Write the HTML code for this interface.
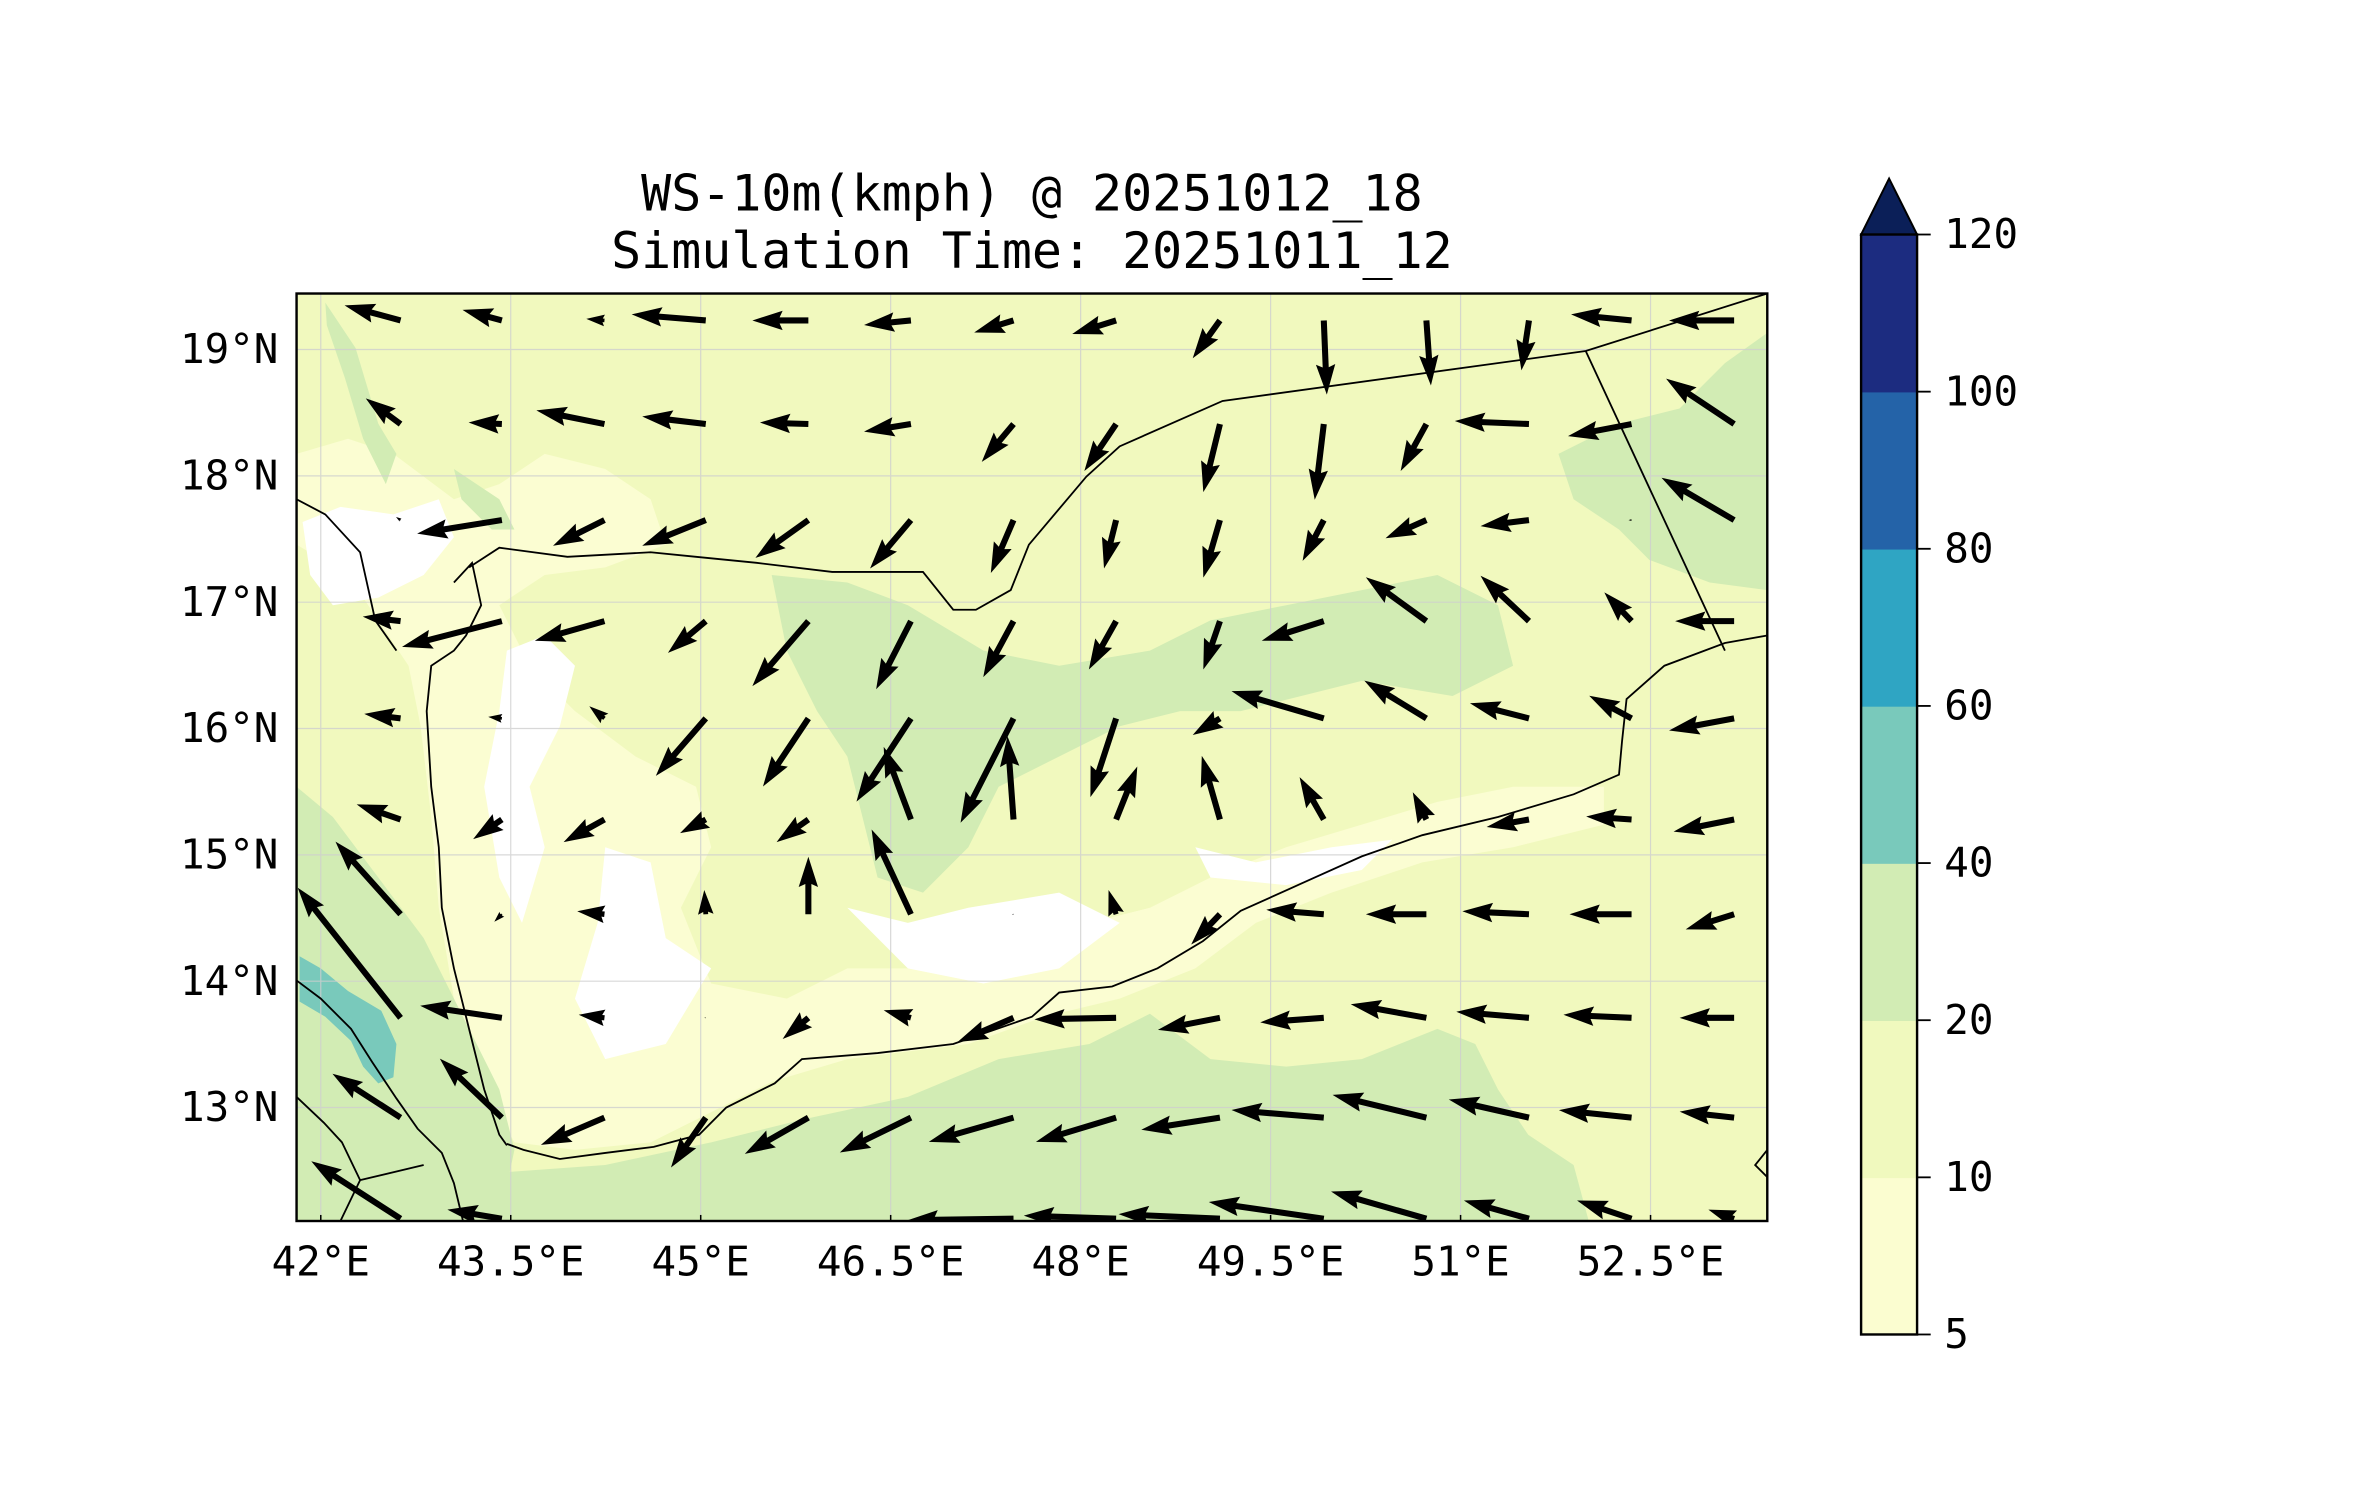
<!DOCTYPE html>
<html><head><meta charset="utf-8">
<style>
html,body{margin:0;padding:0;background:#fff;}
svg{display:block;}
text{font-family:"DejaVu Sans Mono","Liberation Mono",monospace;fill:#000;}
</style></head>
<body>
<svg id="chart" width="2371" height="1500" viewBox="0 0 1567 991.4" preserveAspectRatio="none" xmlns="http://www.w3.org/2000/svg">
  <defs>
    <clipPath id="mapclip"><rect x="196" y="194" width="972" height="613"/></clipPath>
  </defs>
  <g>
    <text x="682" y="139" font-size="33" text-anchor="middle">WS-10m(kmph) @ 20251012_18</text>
    <text x="682" y="177" font-size="33" text-anchor="middle">Simulation Time: 20251011_12</text>
  </g>
  <g id="map" clip-path="url(#mapclip)">
    <rect x="196" y="194" width="972" height="613" fill="#f1f9be"/>
    <g>
      <path fill="#fbfdd2" d="M196 300 L230 290 L260 300 L300 330 L330 320 L360 300 L400 310 L430 330 L440 360 L400 375 L360 380 L330 400 L350 440 L380 470 L420 500 L460 520 L470 560 L450 600 L470 650 L520 660 L560 640 L620 640 L680 620 L720 610 L760 600 L800 580 L850 560 L900 545 L950 530 L1000 520 L1060 520 L1060 545 L1000 560 L940 570 L880 590 L830 610 L790 640 L740 660 L690 672 L640 690 L560 700 L510 715 L470 735 L430 755 L380 760 L340 755 L320 720 L300 660 L290 600 L285 540 L278 480 L270 440 L250 410 L230 380 L196 360 Z"/>
      <path fill="#ffffff" d="M200 345 L225 335 L260 340 L290 330 L300 355 L280 380 L250 395 L220 400 L205 380 Z M335 430 L360 420 L380 440 L370 480 L350 520 L360 560 L345 610 L330 580 L320 520 L330 470 Z M400 560 L430 570 L440 620 L470 640 L440 690 L400 700 L380 660 L395 610 Z M560 600 L600 610 L640 600 L700 590 L740 610 L700 640 L650 650 L600 640 Z M790 560 L830 570 L880 560 L920 555 L900 575 L850 585 L800 580 Z M660 610 L700 605 L720 620 L690 640 L660 630 Z"/>
      <path fill="#d2ecb4" d="M510 380 L560 385 L600 400 L650 430 L700 440 L760 430 L800 410 L850 400 L900 390 L950 380 L990 400 L1000 440 L960 460 L900 450 L860 460 L820 470 L780 470 L740 480 L700 500 L660 520 L640 560 L610 590 L580 580 L570 540 L560 500 L540 470 L520 430 Z"/>
      <path fill="#d2ecb4" d="M1030 300 L1070 280 L1110 270 L1140 240 L1168 220 L1168 390 L1130 385 L1090 370 L1070 350 L1040 330 Z"/>
      <path fill="#d2ecb4" d="M196 520 L220 540 L250 580 L280 620 L310 680 L330 720 L340 760 L330 807 L196 807 Z"/>
      <path fill="#d2ecb4" d="M330 775 L400 770 L470 755 L530 740 L600 725 L660 700 L720 690 L760 670 L800 700 L850 705 L900 700 L950 680 L975 690 L990 720 L1010 750 L1040 770 L1050 807 L330 807 Z"/>
      <path fill="#d2ecb4" d="M215 200 L235 230 L250 280 L262 300 L255 320 L240 290 L228 250 L216 215 Z M300 310 L330 330 L340 350 L325 350 L305 330 Z"/>
      <path fill="#79c9bb" d="M198 632 L212 640 L230 655 L252 668 L262 690 L260 712 L250 716 L240 705 L232 688 L215 672 L198 662 Z"/>
    </g>
    <g stroke="#cfcfcf" stroke-width="0.8" opacity="0.8" id="gridlines"></g>
    <g fill="none" stroke="#000" stroke-width="1.2">
      <path d="M310 375 L330 362 L375 368 L430 365 L460 368 L500 372 L550 378 L610 378 L630 403 L645 403 L668 390 L680 360 L718 315 L740 295 L808 265 L1048 232 L1168 194"/>
      <path d="M1048 232 L1140 430"/>
      <path d="M1168 420 L1140 425 L1100 440 L1075 462 L1072 490 L1070 512 L1040 525 L990 540 L940 552 L900 566 L860 584 L820 602 L795 622 L765 640 L735 652 L700 656 L682 672 L630 690 L580 696 L530 700 L512 716 L480 732 L462 750 L432 758 L400 762 L370 766 L346 760 L335 756"/>
      <path d="M300 385 L312 372 L318 400 L308 420 L300 430 L285 440 L282 470 L285 520 L290 560 L292 600 L300 640 L310 680 L320 720 L330 750 L335 757"/>
      <path d="M196 330 L215 340 L238 365 L244 392 L248 410 L262 430"/>
      <path d="M196 648 L212 660 L232 680 L246 702 L262 726 L276 746 L292 762 L300 782 L306 807"/>
      <path d="M196 725 L214 742 L226 755 L238 780 L225 807 M238 780 L280 770"/>
      <path d="M1168 760 L1160 770 L1168 778"/>
    </g>
    <g id="arrows"></g>
  </g>
  <rect x="196" y="194" width="972" height="613" fill="none" stroke="#000" stroke-width="1.6"/>
  <g id="xaxis"></g>
  <g id="yaxis"></g>
  <g id="colorbar"></g>
</svg>
<script>
// ---- data ----
const lonTicks = [42, 43.5, 45, 46.5, 48, 49.5, 51, 52.5];
const latTicks = [13, 14, 15, 16, 17, 18, 19];
const gridLons = [42.63, 43.43, 44.24, 45.04, 45.85, 46.66, 47.47, 48.28, 49.10, 49.92, 50.73, 51.54, 52.35, 53.16];
const gridLats = [19.23, 18.41, 17.65, 16.85, 16.08, 15.28, 14.53, 13.71, 12.92, 12.12];
// wind components (east u, north v) per grid row
const U = [
  [-37,-26,-12,-49,-37,-31,-26,-29,-18,2,3,-5,-40,-43],
  [-23,-22,-45,-42,-32,-31,-21,-21,-11,-6,-17,-49,-42,-45],
  [-3,-56,-34,-42,-35,-27,-15,-8,-11,-14,-27,-32,-2,-48],
  [-25,-66,-46,-25,-37,-23,-20,-18,-11,-41,-40,-32,-18,-39],
  [-24,-9,-10,-33,-30,-36,-35,-17,-18,-61,-41,-39,-28,-43],
  [-29,-19,-27,-17,-21,-18,-4,14,-12,-16,-9,-28,-30,-40],
  [-43,-5,-18,-1,0,-26,-1,-5,-19,-38,-40,-44,-41,-32],
  [-68,-54,-17,-1,-17,-18,-37,-54,-41,-42,-50,-48,-45,-36],
  [-45,-41,-42,-23,-42,-47,-56,-53,-52,-61,-62,-53,-48,-36],
  [-59,-36,0,0,0,0,-70,-61,-67,-76,-63,-43,-36,-17]
];
const V = [
  [10,7,1,4,0,-3,-8,-9,-25,-49,-43,-33,4,0],
  [17,1,9,5,1,-5,-25,-31,-45,-50,-31,2,-8,30],
  [2,-9,-17,-17,-25,-32,-35,-32,-38,-27,-12,-4,0,28],
  [3,-17,-13,-21,-43,-45,-37,-32,-32,-13,29,30,19,0],
  [3,1,8,-38,-45,-55,-69,-52,-11,18,25,10,15,-8],
  [10,-13,-15,-9,-15,48,55,35,42,28,18,-5,2,-8],
  [48,-5,2,16,38,56,0,16,-20,3,0,2,0,-10],
  [86,8,2,0,-14,5,-16,-1,-8,-3,9,4,2,0],
  [29,39,-18,-33,-24,-23,-16,-16,-8,5,15,12,5,4],
  [38,6,0,0,0,0,-1,2,3,11,18,12,12,6]
];
const cbLevels = [5, 10, 20, 40, 60, 80, 100, 120];
const cbColors = ["#fbfdd0", "#f0f9be", "#d2ecb4", "#79c9bb", "#2fa5c3", "#2463a8", "#1c2c80"];
const cbExtendColor = "#0b1f58";

// ---- axes ----
const NS = "http://www.w3.org/2000/svg";
const X0 = 196, X1 = 1168, Y0 = 194, Y1 = 807;
function xOf(lon){ return 212 + (lon - 42) * 83.7; }
function yOf(lat){ return 231 + (19 - lat) * 83.5; }
function mk(tag, attrs, parent){
  const e = document.createElementNS(NS, tag);
  for (const k in attrs) e.setAttribute(k, attrs[k]);
  parent.appendChild(e);
  return e;
}
const grid = document.getElementById('gridlines');
const xa = document.getElementById('xaxis');
lonTicks.forEach(function(lon){
  const x = xOf(lon);
  const gl = mk('line', {x1:x, x2:x, y1:Y0, y2:Y1}, grid);
  
  
  const tk = mk('line', {x1:x, x2:x, y1:Y1, y2:Y1-4, stroke:'#000', 'stroke-width':1}, xa);
  
  
  const t = mk('text', {x:x, y:843, 'font-size':27, 'text-anchor':'middle'}, xa);
  t.textContent = lon + '°E';
  
  
});
const ya = document.getElementById('yaxis');
latTicks.forEach(function(lat){
  const y = yOf(lat);
  const gl = mk('line', {x1:X0, x2:X1, y1:y, y2:y}, grid);
  
  
  const t = mk('text', {x:184, y:y+9, 'font-size':27, 'text-anchor':'end'}, ya);
  t.textContent = lat + '°N';
  
  
});

// ---- arrows ----
const arrows = document.getElementById('arrows');
const w = 4.0, hw = 1.6 * w, hl = 5 * w, ha = 4.5 * w;
gridLats.forEach(function(lat, r){
  gridLons.forEach(function(lon, c){
    const u = U[r][c], v = V[r][c];
    const L = Math.sqrt(u*u + v*v);
    if (L < 0.5) return;
    const x0 = xOf(lon), y0 = yOf(lat);
    const s = L < hl ? L / hl : 1;
    const W = w*s, HW = hw*s, HL = hl*s, HA = ha*s;
    const pts = [[0,-W/2],[L-HA,-W/2],[L-HL,-HW],[L,0],[L-HL,HW],[L-HA,W/2],[0,W/2]];
    const ang = Math.atan2(-v, u) * 180 / Math.PI;
    const p = mk('polygon', {points: pts.map(function(q){return q[0].toFixed(2)+','+q[1].toFixed(2);}).join(' '),
      fill:'#000', transform:'translate(' + x0.toFixed(2) + ',' + y0.toFixed(2) + ') rotate(' + ang.toFixed(2) + ')'}, arrows);
    
    
  });
});

// ---- colorbar ----
const cb = document.getElementById('colorbar');
const cbX = 1230, cbW = 37, cbTop = 155, cbBot = 882;
const step = (cbBot - cbTop) / (cbLevels.length - 1);
function cbY(i){ return cbBot - i * step; }
cbColors.forEach(function(col, i){
  const rr = mk('rect', {x:cbX, y:cbY(i+1), width:cbW, height:step + 0.5, fill:col}, cb);
  
  
});
const tri = mk('polygon', {points: cbX+','+cbTop+' '+(cbX+cbW/2)+',118 '+(cbX+cbW)+','+cbTop, fill:cbExtendColor, stroke:'#000', 'stroke-width':1.3}, cb);


const fr = mk('rect', {x:cbX, y:cbTop, width:cbW, height:cbBot-cbTop, fill:'none', stroke:'#000', 'stroke-width':1.6}, cb);


cbLevels.forEach(function(lv, i){
  const y = cbY(i);
  const tk = mk('line', {x1:cbX+cbW, x2:cbX+cbW+9, y1:y, y2:y, stroke:'#000', 'stroke-width':1.2}, cb);
  
  
  const t = mk('text', {x:1285, y:y+9, 'font-size':27}, cb);
  t.textContent = lv;
  
  
});
</script>
</body></html>
